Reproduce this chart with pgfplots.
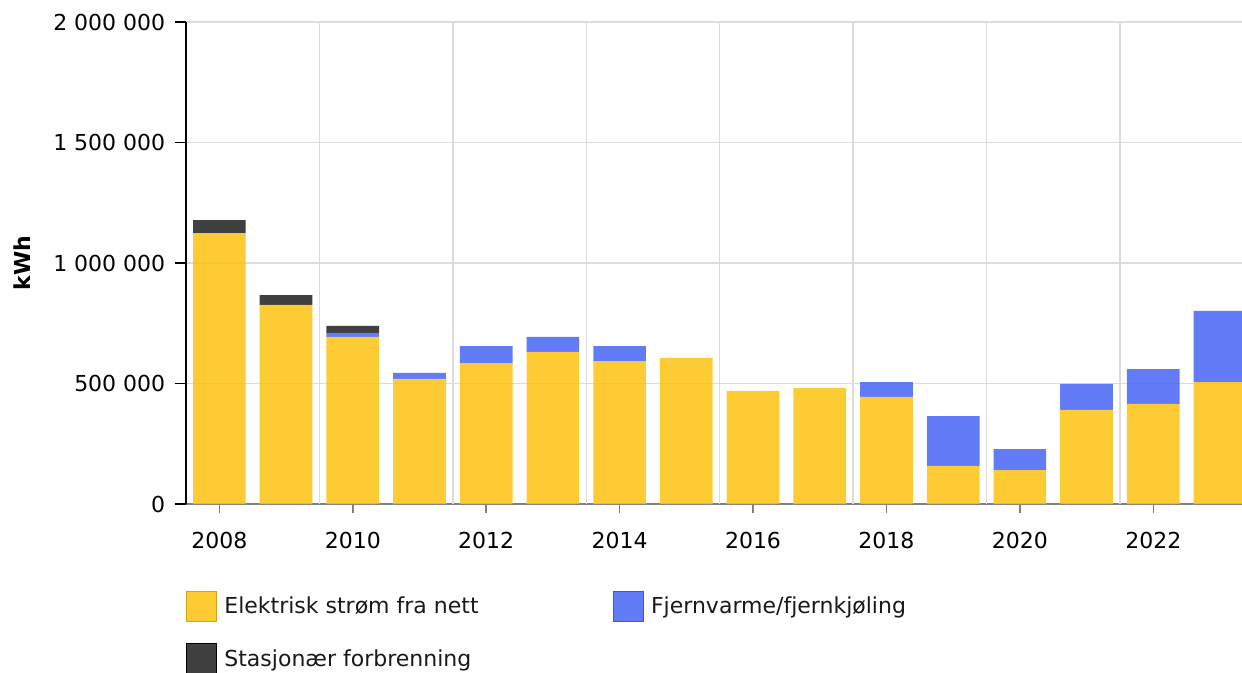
\documentclass[border=0pt]{standalone}
\usepackage{fontspec}
\setmainfont{DejaVu Sans}
\usepackage{pgfplots}
\pgfplotsset{compat=1.18}
\definecolor{ycol}{RGB}{253,194,15}
\definecolor{bcol}{RGB}{71,101,247}
\definecolor{dcol}{RGB}{30,30,30}
\definecolor{gridc}{RGB}{220,220,220}
\definecolor{xaxc}{RGB}{128,128,128}
\begin{document}
\begin{tikzpicture}[font=\fontsize{22}{26}\selectfont]
\useasboundingbox (0,0) rectangle (1242pt,672pt);
\begin{axis}[
  at={(186pt,168pt)}, anchor=south west,
  scale only axis, width=1056pt, height=482pt,
  xmin=2007.5, xmax=2023.33, ymin=0, ymax=2000000,
  ybar stacked, bar width=0.79,
  axis x line*=bottom, axis y line*=left,
  x axis line style={xaxc, line width=1.5pt, -},
  y axis line style={black, line width=1.3pt, -},
  xtick={2008,2010,...,2022},
  xticklabels={2008,2010,2012,2014,2016,2018,2020,2022},
  ytick={0,500000,1000000,1500000,2000000},
  yticklabels={0,500\ 000,1\ 000\ 000,1\ 500\ 000,2\ 000\ 000},
  scaled y ticks=false,
  tick align=outside,
  xtick style={xaxc, line width=1.5pt, /pgfplots/major tick length=9pt},
  ytick style={black, line width=1.3pt, /pgfplots/major tick length=11pt},
  ymajorgrids=true,
  extra x ticks={2009.5,2011.5,2013.5,2015.5,2017.5,2019.5,2021.5},
  extra x tick labels={},
  extra x tick style={grid=major, tick style={draw=none}},
  grid style={gridc, line width=1.5pt},
  yticklabel style={xshift=-13pt},
  xticklabel style={yshift=-20pt},
  ylabel={\textbf{kWh}},
  every axis y label/.style={at={(axis description cs:0,0.5)}, xshift=-164pt, rotate=90, anchor=center},
  legend style={at={(axis description cs:0,0)}, anchor=north west, yshift=-87pt,
    draw=none, fill=none, inner sep=0pt, outer sep=0pt, legend columns=2,
    row sep=22pt,
    nodes={inner sep=0pt, text=black!90},
    /tikz/every odd column/.append style={column sep=8pt},
    /tikz/every even column/.append style={column sep=134pt}},
  legend cell align=left,
]
\addplot+[fill=ycol, fill opacity=0.85, draw=none,
  legend image code/.code={\draw[fill=ycol, fill opacity=0.85, draw=ycol!85!black] (0pt,-15pt) rectangle (30pt,15pt);}]
  coordinates {
  (2008,1124000) (2009,826000) (2010,693000) (2011,519000) (2012,585000)
  (2013,631000) (2014,593000) (2015,606000) (2016,469000) (2017,481000)
  (2018,444000) (2019,158000) (2020,141000) (2021,391000) (2022,415000)
  (2023,506000)};
\addlegendentry{Elektrisk strøm fra nett}
\addplot+[fill=bcol, fill opacity=0.85, draw=none,
  legend image code/.code={\draw[fill=bcol, fill opacity=0.85, draw=bcol!85!black] (0pt,-15pt) rectangle (30pt,15pt);}]
  coordinates {
  (2008,0) (2009,0) (2010,17000) (2011,25000) (2012,70000)
  (2013,62000) (2014,62000) (2015,0) (2016,0) (2017,0)
  (2018,62000) (2019,207000) (2020,87000) (2021,107000) (2022,145000)
  (2023,295000)};
\addlegendentry{Fjernvarme/fjernkjøling}
\addplot+[fill=dcol, fill opacity=0.85, draw=none,
  legend image code/.code={\draw[fill=dcol, fill opacity=0.85, draw=black] (0pt,-15pt) rectangle (30pt,15pt);}]
  coordinates {
  (2008,54000) (2009,41000) (2010,29000) (2011,0) (2012,0)
  (2013,0) (2014,0) (2015,0) (2016,0) (2017,0)
  (2018,0) (2019,0) (2020,0) (2021,0) (2022,0)
  (2023,0)};
\addlegendentry{Stasjonær forbrenning}
\end{axis}
\end{tikzpicture}
\end{document}
